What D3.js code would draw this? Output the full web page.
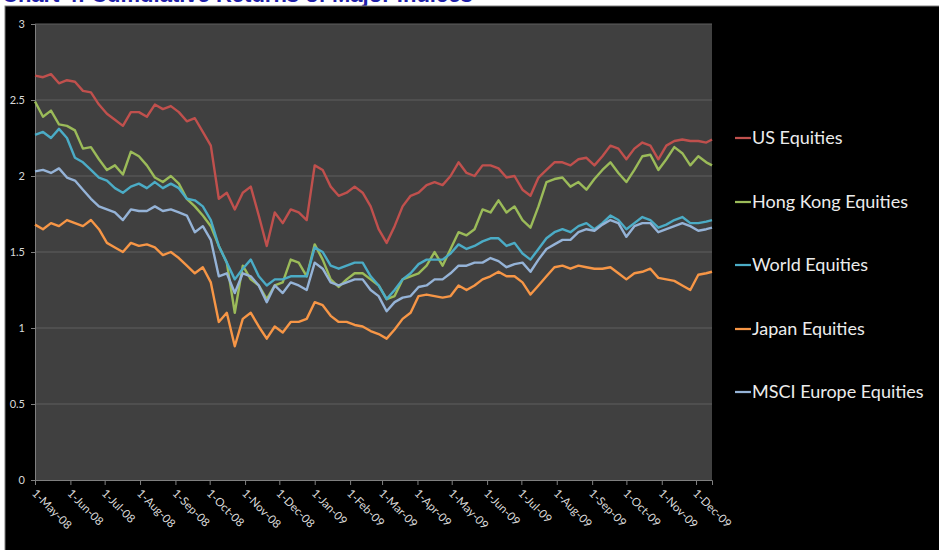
<!DOCTYPE html>
<html>
<head>
<meta charset="utf-8">
<script src="https://cdn.jsdelivr.net/npm/d3@7"></script>
<style>
html,body{margin:0;padding:0;background:#000;}
svg{display:block;}
</style>
</head>
<body>
<svg id="chart" width="939" height="550"></svg>
<script>
const dates = ["2008-05-01","2008-05-08","2008-05-15","2008-05-22","2008-05-29","2008-06-05","2008-06-12","2008-06-19","2008-06-26","2008-07-03","2008-07-10","2008-07-17","2008-07-24","2008-07-31","2008-08-07","2008-08-14","2008-08-21","2008-08-28","2008-09-04","2008-09-11","2008-09-18","2008-09-25","2008-10-02","2008-10-09","2008-10-16","2008-10-23","2008-10-30","2008-11-06","2008-11-13","2008-11-20","2008-11-27","2008-12-04","2008-12-11","2008-12-18","2008-12-25","2009-01-01","2009-01-08","2009-01-15","2009-01-22","2009-01-29","2009-02-05","2009-02-12","2009-02-19","2009-02-26","2009-03-05","2009-03-12","2009-03-19","2009-03-26","2009-04-02","2009-04-09","2009-04-16","2009-04-23","2009-04-30","2009-05-07","2009-05-14","2009-05-21","2009-05-28","2009-06-04","2009-06-11","2009-06-18","2009-06-25","2009-07-02","2009-07-09","2009-07-16","2009-07-23","2009-07-30","2009-08-06","2009-08-13","2009-08-20","2009-08-27","2009-09-03","2009-09-10","2009-09-17","2009-09-24","2009-10-01","2009-10-08","2009-10-15","2009-10-22","2009-10-29","2009-11-05","2009-11-12","2009-11-19","2009-11-26","2009-12-03","2009-12-10","2009-12-15"];

const usEquities = [2.66,2.65,2.67,2.61,2.63,2.62,2.56,2.55,2.47,2.41,2.37,2.33,2.42,2.42,2.39,2.47,2.44,2.46,2.42,2.36,2.38,2.29,2.20,1.85,1.89,1.78,1.89,1.93,1.74,1.54,1.76,1.69,1.78,1.76,1.71,2.07,2.04,1.93,1.87,1.89,1.93,1.89,1.80,1.65,1.56,1.67,1.80,1.87,1.89,1.94,1.96,1.94,2.00,2.09,2.02,2.00,2.07,2.07,2.05,1.99,2.00,1.91,1.87,1.99,2.04,2.09,2.09,2.07,2.11,2.12,2.07,2.13,2.20,2.18,2.11,2.18,2.22,2.20,2.11,2.20,2.23,2.24,2.23,2.23,2.22,2.24];

const hongKongEquities = [2.49,2.39,2.43,2.34,2.33,2.30,2.18,2.19,2.11,2.04,2.07,2.01,2.16,2.13,2.07,1.99,1.96,2.00,1.95,1.85,1.80,1.74,1.67,1.54,1.43,1.10,1.41,1.32,1.28,1.19,1.28,1.30,1.45,1.43,1.34,1.55,1.45,1.32,1.27,1.32,1.36,1.36,1.32,1.28,1.19,1.21,1.32,1.34,1.36,1.41,1.50,1.41,1.52,1.63,1.61,1.65,1.78,1.76,1.84,1.76,1.80,1.71,1.66,1.80,1.96,1.98,1.99,1.93,1.96,1.91,1.98,2.04,2.09,2.02,1.96,2.04,2.13,2.14,2.04,2.11,2.19,2.15,2.07,2.13,2.09,2.07];

const worldEquities = [2.27,2.29,2.25,2.31,2.25,2.12,2.09,2.04,1.99,1.97,1.92,1.89,1.93,1.95,1.92,1.96,1.92,1.95,1.92,1.85,1.84,1.80,1.71,1.54,1.43,1.32,1.39,1.45,1.34,1.28,1.32,1.32,1.34,1.34,1.34,1.53,1.50,1.41,1.39,1.41,1.43,1.43,1.34,1.28,1.19,1.25,1.32,1.36,1.42,1.45,1.45,1.45,1.49,1.55,1.52,1.54,1.57,1.59,1.59,1.54,1.56,1.49,1.45,1.52,1.59,1.63,1.65,1.63,1.67,1.69,1.65,1.69,1.74,1.71,1.65,1.69,1.73,1.71,1.66,1.68,1.71,1.73,1.69,1.69,1.70,1.71];

const japanEquities = [1.68,1.65,1.69,1.67,1.71,1.69,1.67,1.71,1.65,1.56,1.53,1.50,1.56,1.54,1.55,1.53,1.48,1.50,1.46,1.41,1.36,1.40,1.30,1.04,1.10,0.88,1.06,1.10,1.01,0.93,1.01,0.97,1.04,1.04,1.06,1.17,1.15,1.08,1.04,1.04,1.02,1.01,0.98,0.96,0.93,0.99,1.06,1.10,1.21,1.22,1.21,1.20,1.21,1.28,1.25,1.28,1.32,1.34,1.37,1.34,1.34,1.30,1.22,1.28,1.34,1.40,1.41,1.39,1.41,1.40,1.39,1.39,1.40,1.36,1.32,1.36,1.37,1.39,1.33,1.32,1.31,1.28,1.25,1.35,1.36,1.37];

const europeEquities = [2.03,2.04,2.02,2.05,1.99,1.97,1.91,1.85,1.80,1.78,1.76,1.71,1.78,1.77,1.77,1.80,1.77,1.78,1.76,1.74,1.63,1.67,1.58,1.34,1.36,1.23,1.36,1.34,1.28,1.17,1.28,1.23,1.30,1.28,1.25,1.43,1.39,1.30,1.28,1.30,1.32,1.32,1.25,1.21,1.11,1.17,1.20,1.21,1.27,1.28,1.32,1.32,1.36,1.41,1.41,1.43,1.43,1.46,1.44,1.40,1.42,1.43,1.37,1.45,1.52,1.55,1.58,1.58,1.63,1.65,1.64,1.68,1.71,1.69,1.60,1.67,1.69,1.69,1.63,1.65,1.67,1.69,1.67,1.64,1.65,1.66];

const seriesNames = ["US Equities","Hong Kong Equities","World Equities","Japan Equities","MSCI Europe Equities"];
const seriesColors = ["#C0504D","#9BBB59","#4BACC6","#F79646","#95B3D7"];
const seriesValues = [usEquities, hongKongEquities, worldEquities, japanEquities, europeEquities];
const yTicks = [0,0.5,1,1.5,2,2.5,3];
const yTickLabels = ["0","0.5","1","1.5","2","2.5","3"];
const xDomain = ["2008-05-01","2009-12-15"];
const titleText = "Chart 4: Cumulative Returns of Major Indices";

const parse = d3.timeParse("%Y-%m-%d");
const svg = d3.select("#chart");
const W = 939, H = 550;
const m = {left:35, right:712, top:24, bottom:480};

// page background / frame
svg.append("rect").attr("x",0).attr("y",0).attr("width",W).attr("height",H).attr("fill","#fff");
svg.append("text").attr("x",2).attr("y",2).attr("fill","#1f1fa8")
  .attr("font-family","Liberation Sans, Arial, sans-serif").attr("font-weight","bold")
  .attr("font-size",22).text(titleText);
svg.append("rect").attr("x",5).attr("y",6).attr("width",W).attr("height",H).attr("fill","#000")
  .attr("stroke","#7f7f7f").attr("stroke-width",1);

const x = d3.scaleTime().domain(xDomain.map(parse)).range([m.left, m.right]);
const y = d3.scaleLinear().domain([0,3]).range([m.bottom, m.top]);

// plot area
svg.append("rect").attr("x",m.left).attr("y",m.top).attr("width",m.right-m.left).attr("height",m.bottom-m.top).attr("fill","#404040");

// gridlines
svg.append("g").selectAll("line").data(yTicks.filter(d=>d>0)).join("line")
  .attr("x1",m.left).attr("x2",m.right).attr("y1",d=>y(d)).attr("y2",d=>y(d))
  .attr("stroke","#5e5e5e").attr("stroke-width",1);

// y axis
const yAxis = svg.append("g").attr("transform",`translate(${m.left},0)`)
  .call(d3.axisLeft(y).tickValues(yTicks).tickSize(4).tickPadding(6).tickFormat((d,i)=>yTickLabels[i]));
yAxis.select(".domain").attr("stroke","#7f7f7f");
yAxis.selectAll(".tick line").attr("stroke","#7f7f7f");
yAxis.selectAll("text").attr("fill","#d9d9d9").attr("font-family","Lato, sans-serif").attr("font-size",11);

// x axis
const xAxis = svg.append("g").attr("transform",`translate(0,${m.bottom})`)
  .call(d3.axisBottom(x).ticks(d3.timeMonth.every(1)).tickSize(5).tickFormat(d3.timeFormat("%-d-%b-%y")));
xAxis.select(".domain").attr("stroke","#7f7f7f");
xAxis.selectAll(".tick line").attr("stroke","#7f7f7f");
xAxis.selectAll("text").attr("fill","#d9d9d9").attr("font-family","Lato, sans-serif").attr("font-size",11.5)
  .attr("text-anchor","start").attr("transform","translate(0,7) rotate(45)").attr("dy","0.35em").attr("x",2).attr("y",4);

// lines
const line = d3.line().x((d,i)=>x(parse(dates[i]))).y(d=>y(d));
const gLines = svg.append("g");
seriesValues.forEach((vals,s)=>{
  gLines.append("path").datum(vals).attr("d",line).attr("fill","none")
    .attr("stroke",seriesColors[s]).attr("stroke-width",2.4).attr("stroke-linejoin","round");
});

// legend
const legY = [138,202,265,329,392];
const leg = svg.append("g");
seriesNames.forEach((n,i)=>{
  leg.append("line").attr("x1",735).attr("x2",751).attr("y1",legY[i]).attr("y2",legY[i])
    .attr("stroke",seriesColors[i]).attr("stroke-width",2.25);
  leg.append("text").attr("x",752).attr("y",legY[i]).attr("dy","0.35em").attr("fill","#ececec")
    .attr("font-family","Lato, sans-serif").attr("font-size",18).text(n);
});
</script>
</body>
</html>
